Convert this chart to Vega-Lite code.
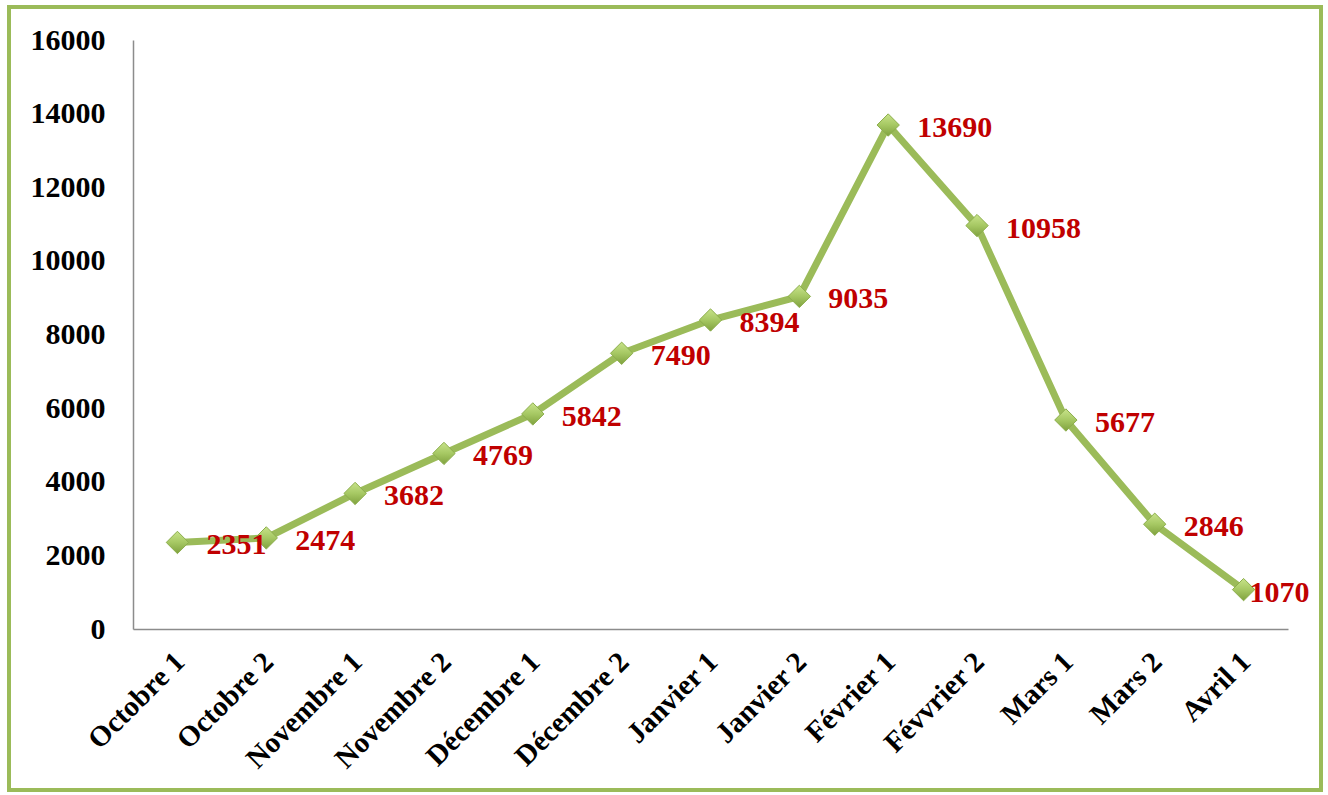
{
  "$schema": "https://vega.github.io/schema/vega-lite/v6.json",
  "width": 1312,
  "height": 783,
  "autosize": {"type": "none"},
  "padding": {"left": 9, "top": 7, "right": 7, "bottom": 5},
  "background": "white",
  "config": {
    "view": {"stroke": "#9BBB59", "strokeWidth": 4},
    "font": "Liberation Serif"
  },
  "data": {
    "values": [
      {"period": "Octobre 1", "value": 2351},
      {"period": "Octobre 2", "value": 2474},
      {"period": "Novembre 1", "value": 3682},
      {"period": "Novembre 2", "value": 4769},
      {"period": "Décembre 1", "value": 5842},
      {"period": "Décembre 2", "value": 7490},
      {"period": "Janvier 1", "value": 8394},
      {"period": "Janvier 2", "value": 9035},
      {"period": "Février 1", "value": 13690},
      {"period": "Févvrier 2", "value": 10958},
      {"period": "Mars 1", "value": 5677},
      {"period": "Mars 2", "value": 2846},
      {"period": "Avril 1", "value": 1070}
    ]
  },
  "encoding": {
    "x": {
      "field": "period",
      "type": "ordinal",
      "sort": null,
      "scale": {"type": "point", "padding": 0.5, "range": [124, 1279]},
      "axis": {
        "title": null,
        "offset": -161,
        "labelAngle": -45,
        "labelFont": "Liberation Serif",
        "labelFontSize": 29,
        "labelFontWeight": "bold",
        "labelColor": "#000000",
        "labelPadding": 18,
        "labelOffset": -8,
        "ticks": false,
        "grid": false,
        "domainColor": "#8C8C8C",
        "domainWidth": 1.5
      }
    },
    "y": {
      "field": "value",
      "type": "quantitative",
      "scale": {"domain": [0, 16000], "range": [622, 33], "nice": false},
      "axis": {
        "title": null,
        "offset": -124,
        "format": "d",
        "values": [0, 2000, 4000, 6000, 8000, 10000, 12000, 14000, 16000],
        "labelFont": "Liberation Serif",
        "labelFontSize": 30,
        "labelFontWeight": "bold",
        "labelColor": "#000000",
        "labelPadding": 28,
        "ticks": false,
        "grid": false,
        "domainColor": "#8C8C8C",
        "domainWidth": 1.5
      }
    }
  },
  "layer": [
    {
      "mark": {"type": "line", "stroke": "#9BBB59", "strokeWidth": 7}
    },
    {
      "mark": {
        "type": "point",
        "shape": "diamond",
        "size": 500,
        "filled": true,
        "opacity": 1,
        "fill": {
          "gradient": "linear",
          "x1": 0, "y1": 0, "x2": 0, "y2": 1,
          "stops": [
            {"offset": 0, "color": "#C8E38A"},
            {"offset": 0.5, "color": "#A6C863"},
            {"offset": 1, "color": "#7FA13E"}
          ]
        },
        "stroke": "#8CAE4C",
        "strokeWidth": 1
      }
    },
    {
      "transform": [{"filter": "datum.period !== 'Avril 1'"}],
      "mark": {
        "type": "text",
        "align": "left",
        "baseline": "middle",
        "dx": 29,
        "dy": 3,
        "font": "Liberation Serif",
        "fontSize": 30,
        "fontWeight": "bold",
        "color": "#C00000"
      },
      "encoding": {"text": {"field": "value", "type": "quantitative", "format": "d"}}
    },
    {
      "transform": [{"filter": "datum.period === 'Avril 1'"}],
      "mark": {
        "type": "text",
        "align": "left",
        "baseline": "middle",
        "dx": 6,
        "dy": 3,
        "font": "Liberation Serif",
        "fontSize": 30,
        "fontWeight": "bold",
        "color": "#C00000"
      },
      "encoding": {"text": {"field": "value", "type": "quantitative", "format": "d"}}
    }
  ]
}
